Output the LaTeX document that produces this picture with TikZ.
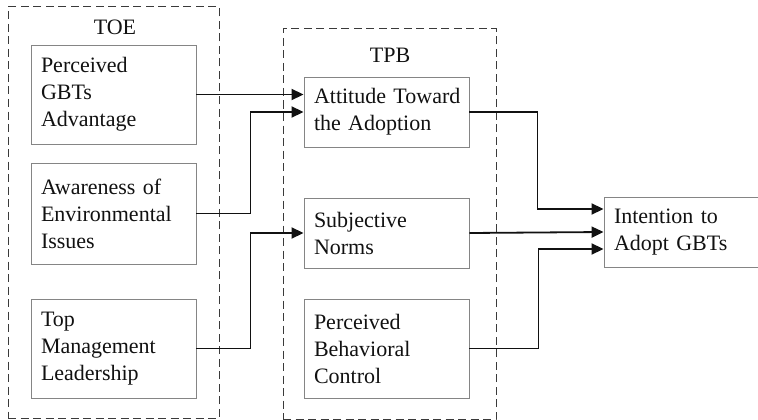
\documentclass[tikz,border=0pt]{standalone}
\usepackage{fontspec}
\setmainfont{Liberation Serif}
\usepackage{xcolor}
\usepackage{tikz}
\usetikzlibrary{arrows.meta,positioning,calc}
\definecolor{ModelInk}{HTML}{111111}
\definecolor{ModelBox}{HTML}{858585}
\definecolor{ModelFrame}{HTML}{3A3A3A}
\tikzset{
  factorbox/.style={draw=ModelBox,line width=0.9pt,align=left,text width=145pt,inner xsep=10pt,inner ysep=0pt,font=\fontsize{22}{27}\selectfont,text=ModelInk},
  groupframe/.style={draw=ModelFrame,line width=1pt,dash pattern=on 8pt off 4.5pt,inner sep=0pt},
  grouplabel/.style={font=\fontsize{22}{27}\selectfont,text=ModelInk,inner sep=0pt},
  linkarrow/.style={-{Triangle[length=12pt,width=11pt]},line width=1.8pt,draw=ModelInk}
}
\begin{document}
\begin{tikzpicture}[x=1pt,y=-1pt]
\useasboundingbox (0,0) rectangle (758,420);
% TOE side
\node[groupframe,minimum width=211pt,minimum height=411pt] (toe) at (113.5,212.5) {};
\node[grouplabel] (toelbl) at (115,27) {TOE};
\node[factorbox,minimum height=99pt] (perc) at (113.5,94.5) {Perceived\\GBTs\\Advantage};
\node[factorbox,minimum height=101pt] (aware) at (113.5,213.5) {Awareness of\\Environmental\\Issues};
\node[factorbox,minimum height=99pt] (topm) at (113.5,348.5) {Top\\Management\\Leadership};
% TPB side
\node[groupframe,minimum width=213pt,minimum height=390pt] (tpb) at (389.5,224) {};
\node[grouplabel] (tpblbl) at (390,55) {TPB};
\node[factorbox,minimum height=70pt] (att) at (386.5,112) {\mbox{Attitude Toward}\\the Adoption};
\node[factorbox,minimum height=70pt] (subj) at (386.5,233) {Subjective\\Norms};
\node[factorbox,minimum height=99pt] (pbc) at (386.5,348.5) {Perceived\\Behavioral\\Control};
% outcome
\node[factorbox,text width=146pt,minimum height=70pt] (intent) at (687,232) {Intention to\\Adopt GBTs};
% links
\draw[linkarrow] (perc.east) -- (perc.east -| att.west);
\draw[linkarrow] (aware.east) -- ++(54,0) |- (att.west);
\draw[linkarrow] (topm.east) -- ++(54,0) |- (subj.west);
\draw[linkarrow] (att.east) -- ++(68,0) |- ([yshift=23pt]intent.west);
\draw[linkarrow] (subj.east) -- (intent.west);
\draw[linkarrow] (pbc.east) -- ++(69,0) |- ([yshift=-17pt]intent.west);
\end{tikzpicture}
\end{document}
